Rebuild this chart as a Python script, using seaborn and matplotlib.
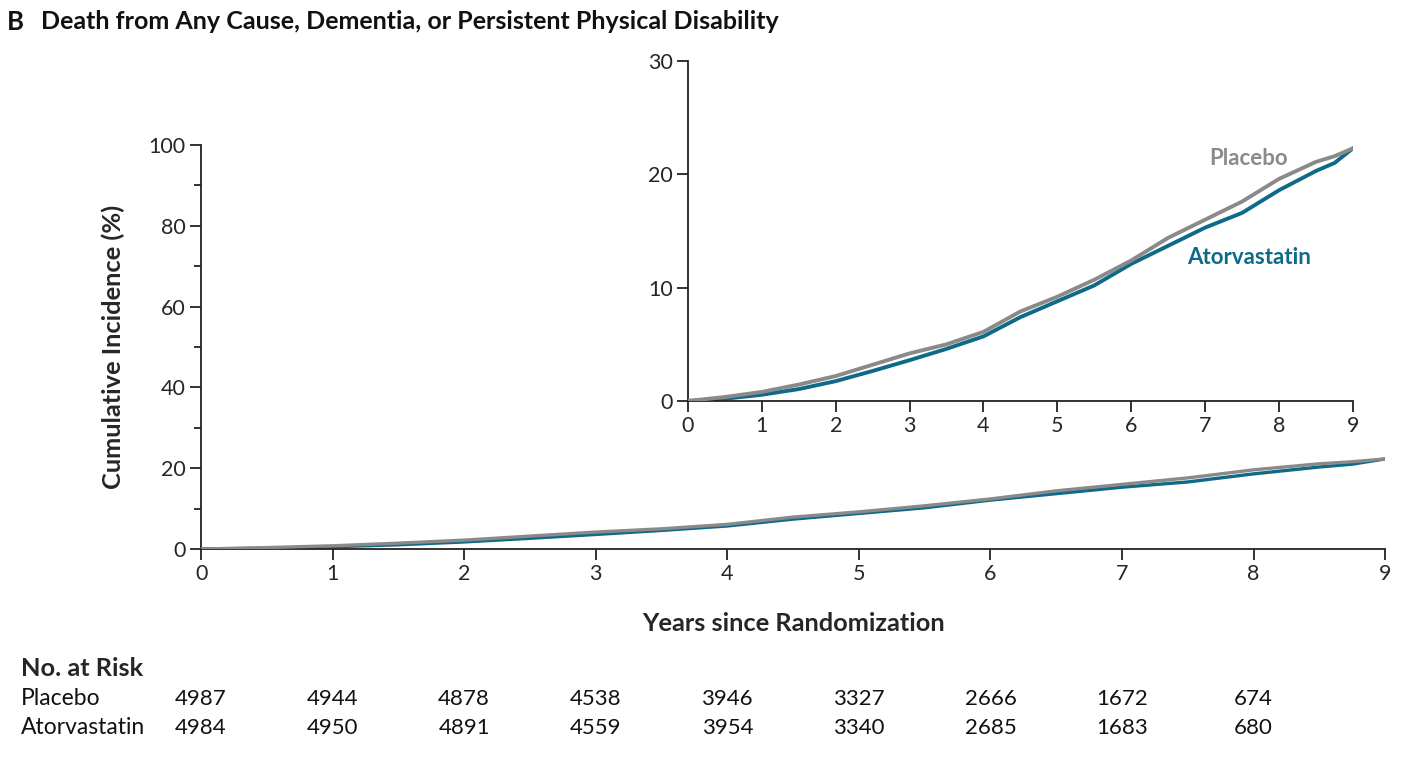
import matplotlib
matplotlib.use("Agg")
import matplotlib.pyplot as plt
import numpy as np
import pandas as pd
import seaborn as sns
from matplotlib.ticker import MultipleLocator

# values (percent)
years = [0, 0.5, 1, 1.5, 2, 2.5, 3, 3.5, 4, 4.5, 5, 5.5, 6, 6.5, 7, 7.5, 8, 8.5, 8.75, 9]
placebo = [0, 0.35, 0.8, 1.45, 2.2, 3.2, 4.2, 5.0, 6.1, 7.9, 9.2, 10.7, 12.4, 14.4, 16.0, 17.6, 19.6, 21.1, 21.6, 22.3]
atorva = [0, 0.2, 0.55, 1.05, 1.75, 2.65, 3.6, 4.6, 5.7, 7.4, 8.8, 10.2, 12.1, 13.7, 15.3, 16.6, 18.6, 20.3, 21.0, 22.3]

groups = ["Placebo", "Atorvastatin"]
risk_years = [0, 1, 2, 3, 4, 5, 6, 7, 8]
risk_placebo = [4987, 4944, 4878, 4538, 3946, 3327, 2666, 1672, 674]
risk_atorva = [4984, 4950, 4891, 4559, 3954, 3340, 2685, 1683, 680]

gray = "#8a8a8a"
teal = "#0e6a88"
palette = {"Placebo": gray, "Atorvastatin": teal}

df = pd.DataFrame({
    "year": years * 2,
    "pct": placebo + atorva,
    "group": ["Placebo"] * len(years) + ["Atorvastatin"] * len(years),
})

sns.set_style("white")
plt.rcParams["font.family"] = ["Lato", "DejaVu Sans"]
plt.rcParams["axes.linewidth"] = 1.3

fig = plt.figure(figsize=(14.24, 7.58), dpi=100)
ax = fig.add_axes([0.1412, 0.2757, 0.8315, 0.533])
ins = fig.add_axes([0.4831, 0.471, 0.467, 0.4485])


def style(a, ymax, ymajor, yminor=None):
    a.set_xlim(0, 9)
    a.set_ylim(0, ymax)
    a.xaxis.set_major_locator(MultipleLocator(1))
    a.yaxis.set_major_locator(MultipleLocator(ymajor))
    if yminor:
        a.yaxis.set_minor_locator(MultipleLocator(yminor))
    for s in ["top", "right"]:
        a.spines[s].set_visible(False)
    for s in ["left", "bottom"]:
        a.spines[s].set_color("#222222")
    a.tick_params(which="major", direction="out", length=8, width=1.3,
                  color="#222222", labelsize=15.5, pad=3, left=True, bottom=True)
    a.tick_params(which="minor", direction="out", length=5, width=1.3,
                  color="#222222", left=True)
    a.set_xlabel("")
    a.set_ylabel("")
    a.patch.set_alpha(0)
    a.grid(False)


for a in (ax, ins):
    sns.lineplot(data=df, x="year", y="pct", hue="group", hue_order=["Atorvastatin", "Placebo"],
                 palette=palette, ax=a, lw=2.8, legend=False, estimator=None)
    a.lines[1].set_zorder(3)

style(ax, 100, 20, 10)
style(ins, 30, 10)
for ln in ax.lines:
    ln.set_linewidth(2.4)

ax.set_ylabel("Cumulative Incidence (%)", fontsize=18.3, fontweight="bold", labelpad=17)
ax.set_xlabel("Years since Randomization", fontsize=18.3, fontweight="bold", labelpad=20)

ins.text(7.06, 21.4, "Placebo", color=gray, fontsize=16, fontweight="bold", va="center", ha="left")
ins.text(6.75, 12.7, "Atorvastatin", color=teal, fontsize=16, fontweight="bold", va="center", ha="left")

fig.text(0.005, 0.971, "B", fontsize=18.5, fontweight="bold", va="center", ha="left", color="#111111")
fig.text(0.029, 0.971, "Death from Any Cause, Dementia, or Persistent Physical Disability",
         fontsize=18, fontweight="bold", va="center", ha="left", color="#111111")

# number at risk table
fig.text(0.015, 0.118, "No. at Risk", fontsize=18.3, fontweight="bold", va="center", ha="left")
rows = [(groups[0], risk_placebo, 0.078), (groups[1], risk_atorva, 0.040)]
for name, counts, yf in rows:
    fig.text(0.015, yf, name, fontsize=16.5, va="center", ha="left", color="#111111")
    for yr, n in zip(risk_years, counts):
        xf = fig.transFigure.inverted().transform(ax.transData.transform((yr, 0)))[0]
        fig.text(xf, yf, str(n), fontsize=16, va="center", ha="center", color="#111111")

fig.savefig("out.png", dpi=100, facecolor="white")
